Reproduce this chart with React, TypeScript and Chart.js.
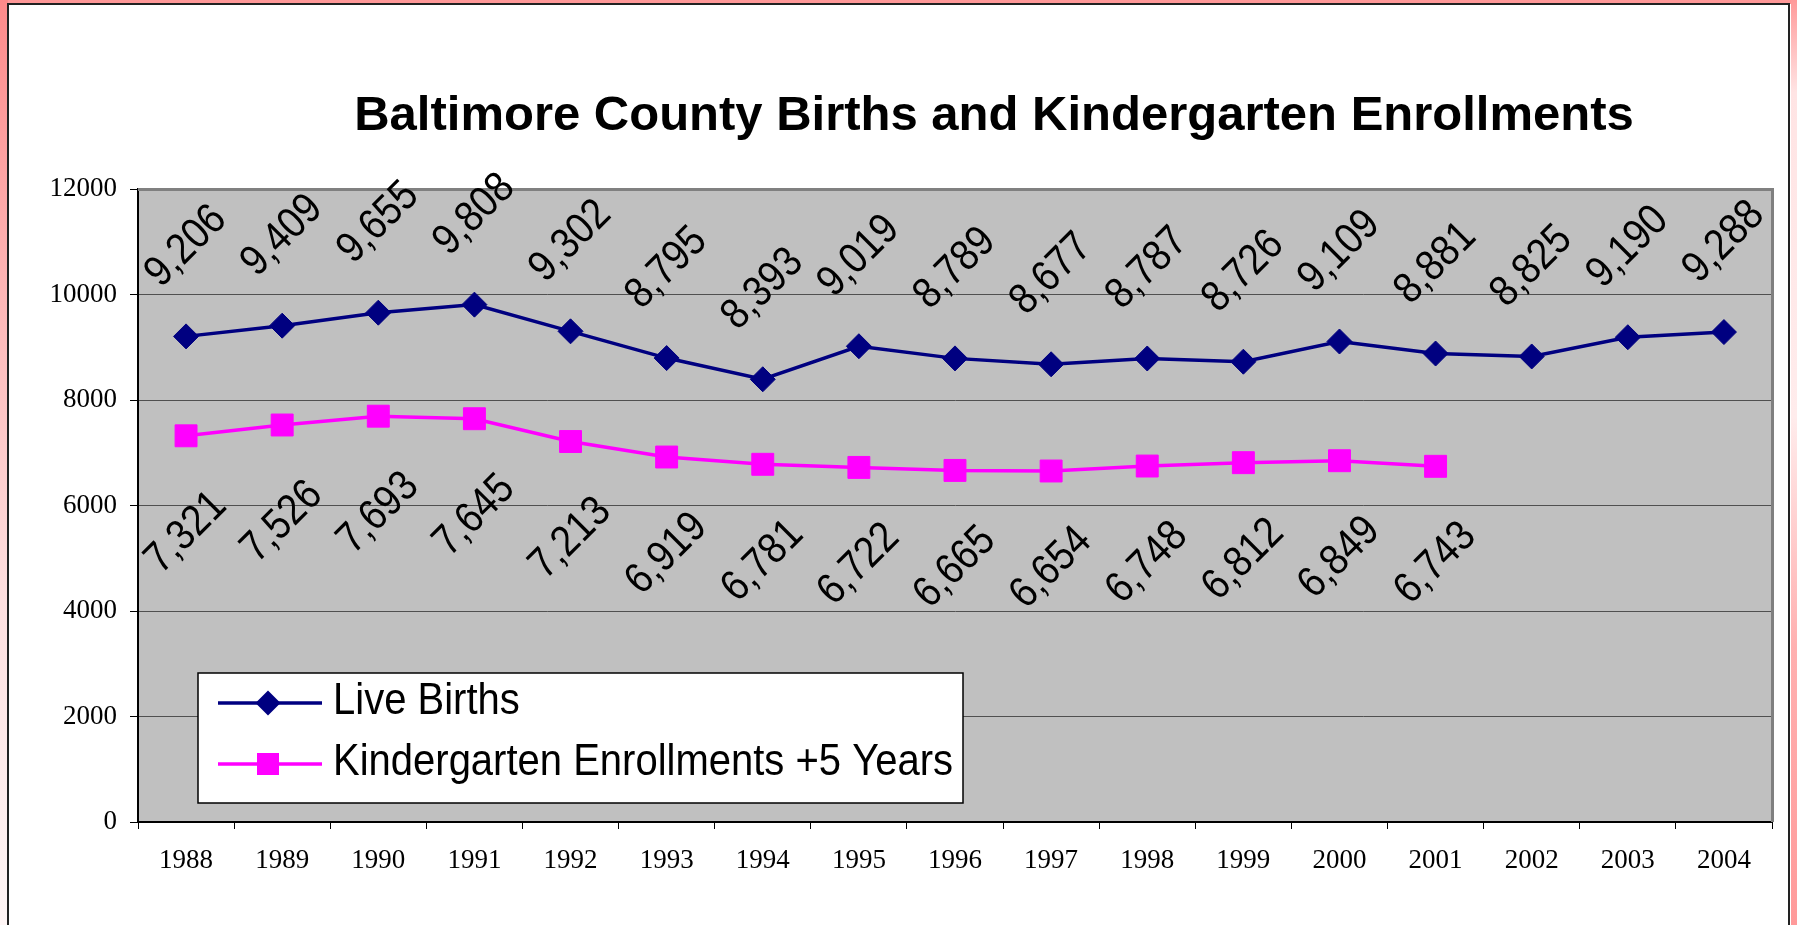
import React, { useEffect, useRef } from 'react';
import { Chart, registerables } from 'chart.js';

Chart.register(...registerables);

// ---------------- data ----------------
const TITLE = 'Baltimore County Births and Kindergarten Enrollments';
const years = ['1988', '1989', '1990', '1991', '1992', '1993', '1994', '1995', '1996', '1997', '1998', '1999', '2000', '2001', '2002', '2003', '2004'];
const liveBirths = [9206, 9409, 9655, 9808, 9302, 8795, 8393, 9019, 8789, 8677, 8787, 8726, 9109, 8881, 8825, 9190, 9288];
const kindergartenPlus5 = [7321, 7526, 7693, 7645, 7213, 6919, 6781, 6722, 6665, 6654, 6748, 6812, 6849, 6743, null, null, null];
const seriesNames = ['Live Births', 'Kindergarten Enrollments +5 Years'];
const yTickValues = [0, 2000, 4000, 6000, 8000, 10000, 12000];

// ---------------- styles ----------------
const W = 1797;
const H = 925;
const COLORS = ['#000080', '#ff00ff'];
const LABEL_OFFSETS = [-90, 97];
const SANS = '"Liberation Sans", Arial, sans-serif';
const SERIF = '"Liberation Serif", "Times New Roman", serif';

const plotFrame = {
  id: 'plotFrame',
  beforeDraw(chart: any) {
    const { ctx, chartArea: a } = chart;
    ctx.save();
    ctx.fillStyle = '#c0c0c0';
    ctx.fillRect(a.left, a.top, a.right - a.left, a.bottom - a.top);
    ctx.restore();
  },
  beforeDatasetsDraw(chart: any) {
    const { ctx, chartArea: a } = chart;
    ctx.save();
    ctx.fillStyle = '#808080';
    ctx.fillRect(a.left, a.top - 1, a.right - a.left + 2, 3);
    ctx.fillRect(a.right - 1, a.top - 1, 3, a.bottom - a.top + 1);
    ctx.restore();
  },
};

const titlePlugin = {
  id: 'titleText',
  afterDraw(chart: any) {
    const ctx = chart.ctx;
    ctx.save();
    ctx.font = `bold 49px ${SANS}`;
    ctx.fillStyle = '#000';
    ctx.textAlign = 'center';
    ctx.textBaseline = 'alphabetic';
    ctx.fillText(TITLE, 994, 130);
    ctx.restore();
  },
};

const dataLabels = {
  id: 'dataLabels',
  afterDatasetsDraw(chart: any) {
    const ctx = chart.ctx;
    chart.data.datasets.forEach((ds: any, i: number) => {
      const meta = chart.getDatasetMeta(i);
      meta.data.forEach((pt: any, j: number) => {
        const v = ds.data[j];
        if (v == null || !isFinite(pt.y)) return;
        ctx.save();
        ctx.translate(pt.x, pt.y + LABEL_OFFSETS[i]);
        ctx.rotate(-Math.PI / 4);
        ctx.scale(1, 1.14);
        ctx.font = `38px ${SANS}`;
        ctx.fillStyle = '#000';
        ctx.textAlign = 'center';
        ctx.textBaseline = 'middle';
        ctx.fillText(Number(v).toLocaleString('en-US'), 0, 0);
        ctx.restore();
      });
    });
  },
};

const boxLegend = {
  id: 'boxLegend',
  afterDraw(chart: any) {
    const ctx = chart.ctx;
    const x0 = 198;
    const y0 = 673;
    const w = 765;
    const h = 130;
    const rows = [703, 764];
    ctx.save();
    ctx.fillStyle = '#fff';
    ctx.fillRect(x0, y0, w, h);
    ctx.strokeStyle = '#000';
    ctx.lineWidth = 1.5;
    ctx.strokeRect(x0, y0, w, h);
    chart.data.datasets.forEach((ds: any, i: number) => {
      const y = rows[i];
      ctx.strokeStyle = ds.borderColor;
      ctx.lineWidth = 3.5;
      ctx.beginPath();
      ctx.moveTo(218, y);
      ctx.lineTo(322, y);
      ctx.stroke();
      ctx.fillStyle = ds.backgroundColor;
      ctx.beginPath();
      if (ds.pointStyle === 'rectRot') {
        const r = 12.5;
        ctx.moveTo(268 - r, y);
        ctx.lineTo(268, y - r);
        ctx.lineTo(268 + r, y);
        ctx.lineTo(268, y + r);
        ctx.closePath();
      } else {
        ctx.rect(268 - 11, y - 11, 22, 22);
      }
      ctx.fill();
      ctx.save();
      ctx.translate(333, y - 1);
      ctx.scale(1, 1.1);
      ctx.fillStyle = '#000';
      ctx.font = `40px ${SANS}`;
      ctx.textAlign = 'left';
      ctx.textBaseline = 'middle';
      ctx.fillText(ds.label, 0, 0);
      ctx.restore();
    });
    ctx.restore();
  },
};

function BirthsChart() {
  const ref = useRef<HTMLCanvasElement | null>(null);
  useEffect(() => {
    if (!ref.current) return;
    const chart = new Chart(ref.current, {
      type: 'line',
      data: {
        labels: years,
        datasets: [
          {
            label: seriesNames[0],
            data: liveBirths,
            borderColor: COLORS[0],
            backgroundColor: COLORS[0],
            borderWidth: 3.5,
            pointStyle: 'rectRot',
            pointRadius: 12.5,
            pointBorderWidth: 1,
            pointBackgroundColor: COLORS[0],
            pointBorderColor: COLORS[0],
            tension: 0,
            fill: false,
            clip: false as any,
          },
          {
            label: seriesNames[1],
            data: kindergartenPlus5,
            borderColor: COLORS[1],
            backgroundColor: COLORS[1],
            borderWidth: 3.5,
            pointStyle: 'rect',
            pointRadius: 15.5,
            pointBorderWidth: 1,
            pointBackgroundColor: COLORS[1],
            pointBorderColor: COLORS[1],
            tension: 0,
            fill: false,
            spanGaps: false,
            clip: false as any,
          },
        ],
      },
      options: {
        responsive: false,
        animation: false,
        events: [],
        layout: { padding: { top: 189, right: 25, left: 0, bottom: 0 } },
        plugins: {
          legend: { display: false },
          title: { display: false },
          tooltip: { enabled: false },
        },
        scales: {
          x: {
            type: 'category',
            offset: true,
            grid: {
              offset: true,
              drawOnChartArea: false,
              drawTicks: true,
              tickLength: 7,
              color: '#000',
              tickColor: '#000',
              lineWidth: 1,
            },
            border: { display: true, color: '#000', width: 2 },
            ticks: {
              color: '#000',
              font: { family: SERIF, size: 27 },
              padding: 16,
              maxRotation: 0,
              autoSkip: false,
            },
            afterFit: (s: any) => {
              s.height = 103;
            },
          },
          y: {
            min: 0,
            max: 12000,
            afterBuildTicks: (s: any) => {
              s.ticks = yTickValues.map((v) => ({ value: v }));
            },
            grid: {
              color: '#505050',
              lineWidth: 1,
              drawTicks: true,
              tickLength: 8,
              tickColor: '#000',
            },
            border: { display: true, color: '#000', width: 2 },
            ticks: {
              color: '#000',
              font: { family: SERIF, size: 27 },
              padding: 13,
              callback: (v: any) => String(v),
            },
            afterFit: (s: any) => {
              s.width = 138;
            },
          },
        },
      },
      plugins: [plotFrame, dataLabels, boxLegend, titlePlugin],
    });
    return () => chart.destroy();
  }, []);
  return (
    <canvas
      ref={ref}
      width={W}
      height={H}
      style={{ position: 'fixed', left: 0, top: 0, width: W, height: H }}
    />
  );
}

export default function App() {
  return (
    <div style={{ position: 'fixed', left: 0, top: 0, width: W, height: H, overflow: 'hidden', background: '#fff' }}>
      <div style={{ position: 'absolute', left: 0, top: 0, width: W, height: 4, background: '#ff9898' }} />
      <div
        style={{
          position: 'absolute',
          left: 0,
          top: 0,
          width: 8,
          height: H,
          background: 'linear-gradient(to bottom, #ff8a8a 0%, #ffb4b4 30%, #ffe0e0 65%, #fff6f6 100%)',
        }}
      />
      <div
        style={{
          position: 'absolute',
          left: 1791,
          top: 0,
          width: 6,
          height: H,
          background: 'linear-gradient(to bottom, #ff9a9a 0%, #ffe4e4 10%, #ffecec 45%, #ffb0b0 70%, #ff9a9a 100%)',
        }}
      />
      <div
        style={{
          position: 'absolute',
          left: 7,
          top: 3,
          width: 1783,
          height: H + 10,
          boxSizing: 'border-box',
          background: '#fff',
          borderLeft: '2px solid #222',
          borderTop: '2px solid #222',
          borderRight: '2px solid #222',
        }}
      />
      <BirthsChart />
    </div>
  );
}
